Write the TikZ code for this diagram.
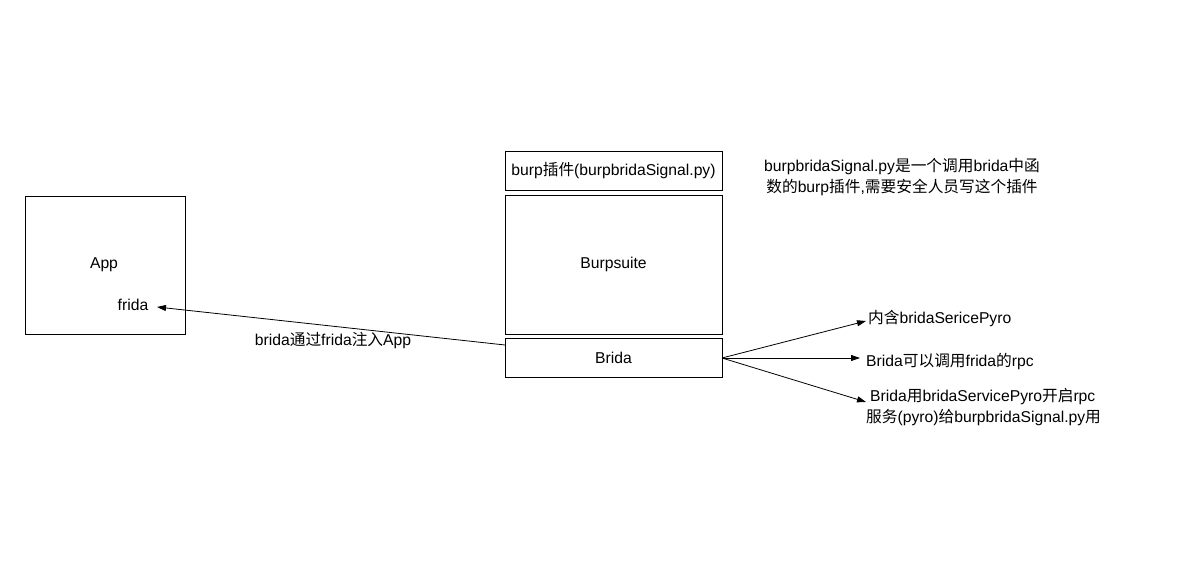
\documentclass[tikz,border=0pt]{standalone}
\usepackage{fontspec}
\setmainfont{Liberation Sans}
\newfontfamily\cjk{Noto Sans CJK SC}
\usetikzlibrary{arrows.meta}
\newcommand{\zh}[1]{{\cjk #1}}
\begin{document}
\begin{tikzpicture}[x=1pt,y=-1pt,
  box/.style={draw,line width=0.8pt,inner sep=0pt},
  txt/.style={font=\fontsize{15.7}{21.5}\selectfont,inner sep=0pt},
  arr/.style={-{Triangle[length=9pt,width=6pt]},line width=0.8pt}]
\useasboundingbox (0,0) rectangle (1193,569);
\node[box,minimum width=160pt,minimum height=138pt] (app) at (105,265) {};
\node[box,minimum width=217pt,minimum height=39pt] (plug) at (613.5,170.5) {};
\node[box,minimum width=217pt,minimum height=139pt] (burp) at (613.5,264.5) {};
\node[box,minimum width=217pt,minimum height=39pt] (brida) at (613.5,357.5) {};
\node[txt] at (104,265) {App};
\node[txt] (frida) at (133,305) {frida};
\node[txt] at (plug) {burp\zh{插件}(burpbridaSignal.py)};
\node[txt] at (burp) {Burpsuite};
\node[txt] at (brida) {Brida};
\node[txt] at (333,341) {brida\zh{通过}frida\zh{注入}App};
\node[txt,align=center] at (902,177) {burpbridaSignal.py\zh{是一个调用}brida\zh{中函}\\\zh{数的}burp\zh{插件},\zh{需要安全人员写这个插件}};
\coordinate (fa) at (157,307);
\coordinate (bl) at (505,345);
\draw[arr] (bl) -- (fa);
\coordinate (bo) at (722,358);
\coordinate (t1) at (866,321);
\coordinate (t2) at (860,358);
\coordinate (t3) at (866,402);
\draw[arr] (bo) -- (t1);
\draw[arr] (bo) -- (t2);
\draw[arr] (bo) -- (t3);
\node[txt,anchor=west] at (868,319) {\zh{内含}bridaSericePyro};
\node[txt,anchor=west] at (866,362) {Brida\zh{可以调用}frida\zh{的}rpc};
\node[txt,anchor=west,align=left] at (866,407) {\hspace*{4pt}Brida\zh{用}bridaServicePyro\zh{开启}rpc\\\zh{服务}(pyro)\zh{给}burpbridaSignal.py\zh{用}};
\end{tikzpicture}
\end{document}
